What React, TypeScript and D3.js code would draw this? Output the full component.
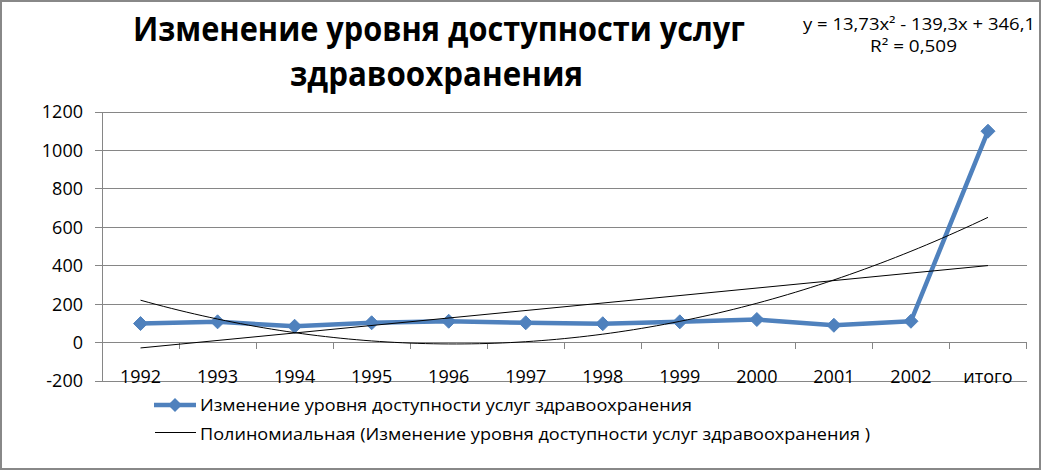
import React from 'react';
import * as d3 from 'd3';

const categories = ['1992', '1993', '1994', '1995', '1996', '1997', '1998', '1999', '2000', '2001', '2002', 'итого'];
const values = [99, 108, 85, 103, 111, 103, 98, 108, 120, 90, 111, 1100];
const yTicks = [-200, 0, 200, 400, 600, 800, 1000, 1200];
const polyCoeffs = [13.73, -139.3, 346.1]; // a x^2 + b x + c
const titleLines = ['Изменение уровня доступности услуг', 'здравоохранения'];
const equationText = 'y = 13,73x² - 139,3x + 346,1';
const r2Text = 'R² = 0,509';
const seriesName = 'Изменение уровня доступности услуг здравоохранения';
const trendName = 'Полиномиальная (Изменение уровня доступности услуг здравоохранения )';

const W = 1042;
const H = 471;
const FONT = '"Open Sans", "Noto Sans", sans-serif';
const BLUE = '#4F81BD';
const GRID = '#868686';

export default function App() {
  const left = 102;
  const right = 1026.5;
  const top = 112;
  const bottom = 381;

  const x = d3.scaleBand<string>().domain(categories).range([left, right]).padding(0);
  const y = d3.scaleLinear().domain([-200, 1200]).range([bottom, top]);
  const cx = (i: number) => (x(categories[0]) as number) + x.bandwidth() * (i - 0.5);

  // linear least-squares trend from data
  const n = values.length;
  const xs = values.map((_, i) => i + 1);
  const mx = d3.mean(xs) as number;
  const my = d3.mean(values) as number;
  const sxy = d3.sum(xs.map((xi, i) => (xi - mx) * (values[i] - my)));
  const sxx = d3.sum(xs.map((xi) => (xi - mx) ** 2));
  const slope = sxy / sxx;
  const intercept = my - slope * mx;

  const lineGen = d3
    .line<number>()
    .x((_, i) => (x(categories[i]) as number) + x.bandwidth() / 2)
    .y((d) => y(d));

  const polySamples = d3.range(1, n + 0.0001, 0.1).map((t) => [t, polyCoeffs[0] * t * t + polyCoeffs[1] * t + polyCoeffs[2]]);
  const polyPath = d3
    .line<number[]>()
    .x((d) => cx(d[0]))
    .y((d) => y(d[1]))
    .curve(d3.curveLinear)(polySamples) as string;

  const linPath = `M${cx(1)},${y(intercept + slope * 1)}L${cx(n)},${y(intercept + slope * n)}`;

  const diamond = (px: number, py: number, r: number) =>
    `M${px},${py - r}L${px + r},${py}L${px},${py + r}L${px - r},${py}Z`;

  const y0 = y(0);

  return (
    <svg
      width={W}
      height={H}
      style={{ position: 'absolute', left: 0, top: 0, background: '#fff' }}
      fontFamily={FONT}
    >
      <rect x={0} y={0} width={W} height={H} fill="#fff" />
      <rect x={1} y={1} width={1039} height={468} fill="none" stroke="#888" strokeWidth={2} />

      {/* title */}
      <text x={133} y={41} fontSize={34} fontWeight="bold" textLength={612} lengthAdjust="spacingAndGlyphs" fill="#000">
        {titleLines[0]}
      </text>
      <text x={290} y={86} fontSize={34} fontWeight="bold" textLength={293} lengthAdjust="spacingAndGlyphs" fill="#000">
        {titleLines[1]}
      </text>

      {/* equation */}
      <text x={803} y={30} fontSize={16} textLength={232} lengthAdjust="spacingAndGlyphs" fill="#000">
        {equationText}
      </text>
      <text x={870} y={52} fontSize={16} textLength={87} lengthAdjust="spacingAndGlyphs" fill="#000">
        {r2Text}
      </text>

      {/* gridlines */}
      {yTicks.map((t) => (
        <g key={t}>
          <line x1={left - 7} x2={right} y1={y(t)} y2={y(t)} stroke={GRID} strokeWidth={1} shapeRendering="crispEdges" />
          <text x={83} y={y(t)} dy="0.36em" textAnchor="end" fontSize={18} fill="#000">
            {t}
          </text>
        </g>
      ))}
      {/* y axis */}
      <line x1={left} x2={left} y1={top} y2={bottom} stroke={GRID} strokeWidth={1} shapeRendering="crispEdges" />
      {/* x axis ticks at 0 */}
      {d3.range(categories.length + 1).map((i) => {
        const xx = left + x.bandwidth() * i;
        return <line key={i} x1={xx} x2={xx} y1={y0} y2={y0 + 6} stroke={GRID} strokeWidth={1} shapeRendering="crispEdges" />;
      })}
      {categories.map((c) => (
        <text key={c} x={(x(c) as number) + x.bandwidth() / 2} y={383} textAnchor="middle" fontSize={18} fill="#000">
          {c}
        </text>
      ))}

      {/* series */}
      <path d={lineGen(values) as string} fill="none" stroke={BLUE} strokeWidth={4.5} strokeLinejoin="round" />
      {values.map((v, i) => (
        <path key={i} d={diamond((x(categories[i]) as number) + x.bandwidth() / 2, y(v), 7)} fill={BLUE} stroke={BLUE} strokeWidth={1} />
      ))}

      {/* trendlines */}
      <path d={linPath} fill="none" stroke="#000" strokeWidth={1} />
      <path d={polyPath} fill="none" stroke="#000" strokeWidth={1} />

      {/* legend */}
      <line x1={154} x2={196} y1={405} y2={405} stroke={BLUE} strokeWidth={4.5} />
      <path d={diamond(175, 405, 7)} fill={BLUE} />
      <text x={200} y={411} fontSize={17} textLength={492} lengthAdjust="spacingAndGlyphs" fill="#000">
        {seriesName}
      </text>
      <line x1={155} x2={196} y1={432.5} y2={432.5} stroke="#000" strokeWidth={1} />
      <text x={200} y={440} fontSize={17} textLength={670} lengthAdjust="spacingAndGlyphs" fill="#000">
        {trendName}
      </text>
    </svg>
  );
}
